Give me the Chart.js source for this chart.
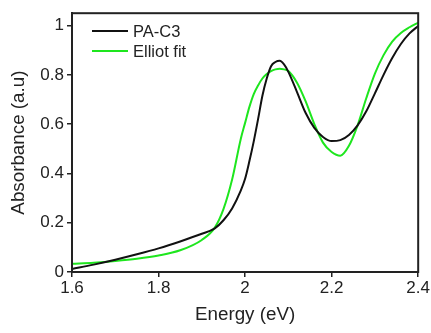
<!DOCTYPE html>
<html>
<head>
<meta charset="utf-8">
<script src="https://cdn.jsdelivr.net/npm/chart.js@4.4.1/dist/chart.umd.min.js"></script>
<style>
html, body { margin:0; padding:0; background:#fff; }
#wrap { width:431px; height:333px; }
</style>
</head>
<body>
<div id="wrap"><canvas id="absChart" width="431" height="333"></canvas></div>
<script>

/* DATA */

const energy = [1.60,1.65,1.70,1.75,1.80,1.85,1.90,1.93,1.95,1.97,1.99,2.00,2.01,2.02,2.03,2.04,2.05,2.06,2.07,2.08,2.09,2.10,2.12,2.14,2.16,2.18,2.20,2.22,2.24,2.26,2.28,2.30,2.32,2.34,2.36,2.38,2.40];

const paC3 = [0.012,0.030,0.050,0.072,0.096,0.124,0.155,0.177,0.210,0.258,0.330,0.378,0.450,0.530,0.620,0.715,0.785,0.835,0.852,0.857,0.842,0.812,0.730,0.645,0.585,0.548,0.531,0.535,0.556,0.595,0.652,0.725,0.800,0.868,0.925,0.968,0.998];

const elliotFit = [0.033,0.038,0.045,0.054,0.067,0.088,0.130,0.180,0.255,0.375,0.540,0.605,0.670,0.722,0.757,0.785,0.803,0.815,0.822,0.825,0.822,0.815,0.768,0.692,0.600,0.525,0.487,0.472,0.512,0.595,0.705,0.805,0.880,0.935,0.970,0.993,1.012];

const seriesNames = ["PA-C3", "Elliot fit"];
const xTicks = [1.6, 1.8, 2.0, 2.2, 2.4];
const yTicks = [0, 0.2, 0.4, 0.6, 0.8, 1.0];

const FONT = "Liberation Sans, Arial, sans-serif";

function pts(ys){
  return energy.map((x, i) => ({ x: x, y: ys[i] }));
}

function fmt(v){
  return String(+v.toFixed(1));
}

/* frame round the plot + legend inside it */

const framePlugin = {
  id: "frame",
  afterDraw(chart){
    const c = chart.ctx;
    const a = chart.chartArea;
    c.save();
    c.strokeStyle = "#222";
    c.lineWidth = 2;
    c.strokeRect(a.left, a.top, a.right - a.left, a.bottom - a.top);

    // legend
    c.font = "16.5px " + FONT;
    c.textBaseline = "middle";
    chart.data.datasets.forEach((ds, i) => {
      const y = 31 + i * 20;
      c.strokeStyle = ds.borderColor;
      c.lineWidth = 2;
      c.beginPath();
      c.moveTo(92, y);
      c.lineTo(128, y);
      c.stroke();
      c.fillStyle = "#222";
      c.fillText(ds.label, 133, y + 1);
    });
    c.restore();
  }
};

new Chart(document.getElementById("absChart"), {
  type: "line",
  data: {
    datasets: [
      {
        label: seriesNames[0],
        data: pts(paC3),
        borderColor: "#111111",
        borderWidth: 2,
        pointRadius: 0,
        cubicInterpolationMode: "monotone",
        fill: false
      },
      {
        label: seriesNames[1],
        data: pts(elliotFit),
        borderColor: "#1ee61e",
        borderWidth: 2,
        pointRadius: 0,
        cubicInterpolationMode: "monotone",
        fill: false
      }
    ]
  },
  options: {
    responsive: false,
    maintainAspectRatio: false,
    animation: false,
    layout: { padding: { left: 0, right: 12, top: 5, bottom: 0 } },
    plugins: {
      legend: { display: false },
      tooltip: { enabled: false }
    },
    scales: {
      x: {
        type: "linear",
        min: 1.6,
        max: 2.4,
        afterBuildTicks(s){ s.ticks = xTicks.map(v => ({ value: v })); },
        afterFit(s){ s.height = 61; },
        ticks: {
          callback: v => fmt(v),
          color: "#222",
          font: { family: FONT, size: 17 },
          padding: 1,
          maxRotation: 0
        },
        grid: {
          drawOnChartArea: false,
          drawTicks: true,
          tickLength: 5,
          color: "#222",
          lineWidth: 1.5
        },
        border: { display: true, color: "#222", width: 2 },
        title: {
          display: true,
          text: "Energy (eV)",
          color: "#222",
          font: { family: FONT, size: 18.8 },
          padding: { top: 4, bottom: 7 }
        }
      },
      y: {
        type: "linear",
        min: 0,
        max: 1.05,
        afterBuildTicks(s){ s.ticks = yTicks.map(v => ({ value: v })); },
        afterFit(s){ s.width = 72; },
        ticks: {
          callback: v => fmt(v),
          color: "#222",
          font: { family: FONT, size: 17 },
          padding: 3
        },
        grid: {
          drawOnChartArea: false,
          drawTicks: true,
          tickLength: 5,
          color: "#222",
          lineWidth: 1.5
        },
        border: { display: true, color: "#222", width: 2 },
        title: {
          display: true,
          text: "Absorbance (a.u)",
          color: "#222",
          font: { family: FONT, size: 18.8 },
          padding: { top: 8, bottom: 4 }
        }
      }
    }
  },
  plugins: [framePlugin]
});

</script>
</body>
</html>
